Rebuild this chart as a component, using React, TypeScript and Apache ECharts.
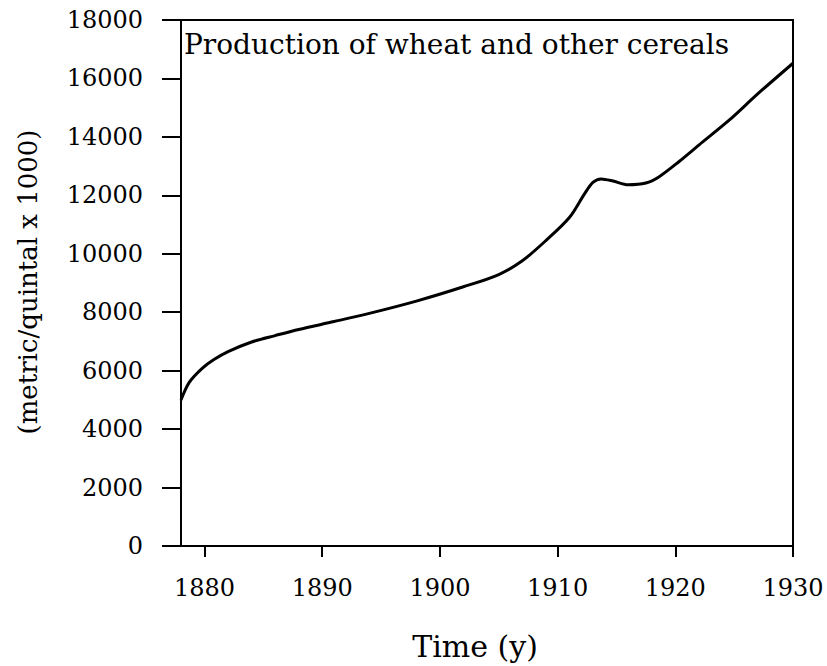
import React, { useEffect, useRef } from "react";
import * as echarts from "echarts";

const years = [
  1878, 1878.7, 1879.8, 1880.8, 1882, 1884, 1886, 1888, 1891, 1894, 1898,
  1902, 1905, 1907, 1909, 1911, 1912.3, 1913, 1913.7, 1914.7, 1916, 1917.5,
  1918.6, 1920.3, 1922, 1924.6, 1927, 1930,
];
const production = [
  5000, 5600, 6080, 6380, 6650, 6980, 7200, 7410, 7680, 7960, 8380,
  8870, 9290, 9760, 10450, 11240, 12060, 12440, 12560, 12490, 12360, 12420,
  12630, 13150, 13720, 14580, 15470, 16520,
];
const xTicks = [1880, 1890, 1900, 1910, 1920, 1930];
const yTicks = [0, 2000, 4000, 6000, 8000, 10000, 12000, 14000, 16000, 18000];
const titleText = "Production of wheat and other cereals";
const xName = "Time (y)";
const yName = "(metric/quintal x 1000)";

const FONT = "DejaVu Serif";

export default function App() {
  const ref = useRef<HTMLDivElement>(null);
  useEffect(() => {
    if (!ref.current) return;
    const chart = echarts.init(ref.current, null, { renderer: "svg" });
    chart.setOption({
      animation: false,
      title: {
        text: titleText,
        left: 184,
        top: 30,
        padding: 0,
        textStyle: { fontFamily: FONT, fontSize: 28, fontWeight: "normal", color: "#000" },
      },
      grid: {
        left: 181,
        right: 34,
        top: 20,
        bottom: 120,
        show: true,
        borderColor: "#000",
        borderWidth: 2,
        backgroundColor: "transparent",
        outerBoundsMode: "none",
        containLabel: false,
      },
      xAxis: {
        type: "value",
        min: 1878,
        max: 1930,
        splitLine: { show: false },
        axisLine: { show: true, onZero: false, lineStyle: { color: "#000", width: 2 } },
        axisTick: {
          show: true,
          inside: false,
          customValues: xTicks,
          length: 11,
          lineStyle: { color: "#000", width: 2 },
        },
        axisLabel: {
          show: true,
          customValues: xTicks,
          margin: 30,
          fontFamily: FONT,
          fontSize: 24,
          color: "#000",
          formatter: (v: number) => String(v),
        },
      },
      yAxis: {
        type: "value",
        min: 0,
        max: 18000,
        interval: 2000,
        splitLine: { show: false },
        axisLine: { show: true, onZero: false, lineStyle: { color: "#000", width: 2 } },
        axisTick: {
          show: true,
          inside: false,
          customValues: yTicks,
          length: 19,
          lineStyle: { color: "#000", width: 2 },
        },
        axisLabel: {
          margin: 38,
          customValues: yTicks,
          fontFamily: FONT,
          fontSize: 24,
          color: "#000",
          formatter: (v: number) => String(v),
        },
      },
      graphic: [
        {
          type: "text",
          x: 475,
          y: 646,
          style: {
            text: xName,
            font: `30px "${FONT}"`,
            fill: "#000",
            textAlign: "center",
            textVerticalAlign: "middle",
            align: "center",
            verticalAlign: "middle",
          },
        },
        {
          type: "text",
          x: 28,
          y: 282,
          rotation: Math.PI / 2,
          style: {
            text: yName,
            font: `26px "${FONT}"`,
            fill: "#000",
            textAlign: "center",
            textVerticalAlign: "middle",
            align: "center",
            verticalAlign: "middle",
          },
        },
      ],
      series: [
        {
          type: "line",
          data: years.map((y, i) => [y, production[i]]),
          smooth: 0.3,
          showSymbol: false,
          symbol: "none",
          lineStyle: { color: "#000", width: 3 },
        },
      ],
    });
    return () => chart.dispose();
  }, []);
  return <div ref={ref} style={{ width: 827, height: 666, position: "absolute", left: 0, top: 0 }} />;
}
